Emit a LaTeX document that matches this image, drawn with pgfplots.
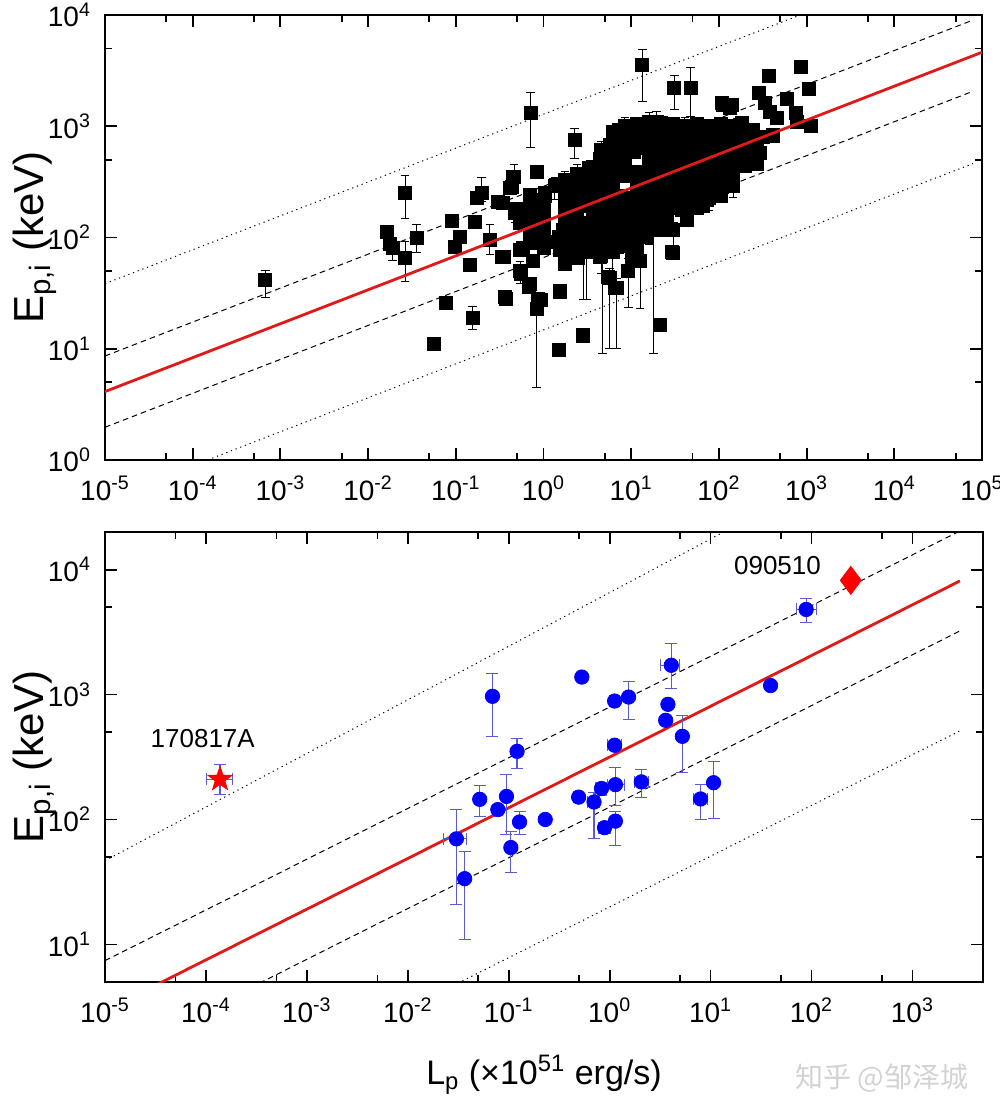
\documentclass[border=0pt]{standalone}
\usepackage{pgfplots}
\pgfplotsset{compat=1.18}
\usepackage{pgfplotstable}
\usepackage{fontspec}
\setmainfont{Liberation Sans}
\newfontfamily\cjk{Noto Sans CJK SC}
\definecolor{errblue}{RGB}{90,90,210}
\definecolor{fitred}{RGB}{225,25,25}

\pgfdeclareplotmark{filledstar}{%
 \pgfpathmoveto{\pgfpointpolar{90}{\pgfplotmarksize}}%
 \pgfpathlineto{\pgfpointpolar{126}{0.4\pgfplotmarksize}}%
 \pgfpathlineto{\pgfpointpolar{162}{\pgfplotmarksize}}%
 \pgfpathlineto{\pgfpointpolar{198}{0.4\pgfplotmarksize}}%
 \pgfpathlineto{\pgfpointpolar{234}{\pgfplotmarksize}}%
 \pgfpathlineto{\pgfpointpolar{270}{0.4\pgfplotmarksize}}%
 \pgfpathlineto{\pgfpointpolar{306}{\pgfplotmarksize}}%
 \pgfpathlineto{\pgfpointpolar{342}{0.4\pgfplotmarksize}}%
 \pgfpathlineto{\pgfpointpolar{18}{\pgfplotmarksize}}%
 \pgfpathlineto{\pgfpointpolar{54}{0.4\pgfplotmarksize}}%
 \pgfpathclose
 \pgfusepathqfillstroke}

% top panel: points without visible error bars
\pgfplotstableread{
x y
0.0163 113
0.0178 88
0.0564 11
0.077 26
0.09 142
0.098 83
0.11 101
0.145 57
0.166 138
0.176 225
0.30 211
0.333 67
0.37 28
0.433 285
0.494 182
0.54 164
0.54 134
0.589 80
0.766 62
0.553 47
0.689 36
0.93 27.7
1.04 250
0.995 98
1.09 92
0.85 385
0.348 205
0.364 29
0.415 281
0.453 347
0.54 135
0.54 77
0.35 67
0.70 38
0.873 28
0.995 95
1.48 102
1.54 77
1.54 33.3
2.84 13.4
28.8 74
5.48 44
6.53 35.6
11.5 74
2.49 67
2.84 77
3.39 88.5
6.82 82.5
10.6 77
21.4 117
37.7 178
43 144
66.4 191
72.4 220
94.2 271
417 832
247 893
174 1025
112 1560
134 1453
103 586
72.4 508
46.8 955
39.3 832
21.4 1062
7.13 893
4.41 508
2.84 359
2.39 271
1.84 236
3.1 236
6.25 312
8.87 359
17.9 474
36.1 586
51.2 673
60.8 508
86.3 413
60.8 359
43 312
30.2 271
21.4 236
10.6 178
5.25 178
3.7 155
2.61 135
2.0 155
1.68 117
4.04 117
5.73 102
15 144
25.4 178
36.1 236
51.2 271
72.4 312
146 722
207 722
15 312
11.5 271
7.45 236
5.25 236
4.41 67
12.6 62
15 102
25.4 144
7.13 508
10.6 586
15 722
17.9 628
55.7 832
86.3 722
36.1 385
17.9 359
1.39 297
7.26 925
22 1065
107 1607
851 3430
376 2830
1064 2150
289 2000
593 1747
336 1607
383 1352
456 1178
757 1306
784 1099
1112 1005
418 817
140 1549
182 1065
245 925
321 805
207 612
122 752
112 532
117 405
107 286
30 73
2.85 13
1.48 9.7
1.54 32.6
2.5 65
3.55 74
10.1 67
21.4 16.3
0.70 241
0.70 188
0.70 147
0.70 114
0.70 89
1.02 217
1.02 169
1.02 132
1.02 103
1.02 80.5
1.758 256
1.758 200
1.758 156
1.758 122
1.758 95
1.758 74
1.758 57.8
2.41 290
2.41 226
2.41 177
2.41 138
2.41 107
2.41 84
2.41 65.5
3.30 421
3.30 329
3.30 256
3.30 200
3.30 122
3.30 95
3.30 74
4.53 477
4.53 372
4.53 290
4.53 226
4.53 177
4.53 138
4.53 107
4.53 84
6.20 888
6.20 693
6.20 540
6.20 421
6.20 329
6.20 200
6.20 156
6.20 122
6.20 95
8.49 784
8.49 612
8.49 477
8.49 372
8.49 226
8.49 177
8.49 138
8.49 107
8.49 84
11.6 1047
11.6 817
11.6 638
11.6 388
11.6 303
11.6 236
11.6 184
11.6 144
11.6 112
16.0 852
16.0 664
16.0 518
16.0 405
16.0 315
16.0 246
16.0 192
16.0 150
21.9 1047
21.9 817
21.9 638
21.9 497
21.9 388
21.9 303
21.9 184
21.9 144
30.0 1047
30.0 817
30.0 638
30.0 497
30.0 388
30.0 303
30.0 236
30.0 184
41.0 784
41.0 612
41.0 372
41.0 290
41.0 226
41.0 177
56.2 1047
56.2 817
56.2 638
56.2 497
56.2 388
56.2 236
56.2 184
77.1 1005
77.1 784
77.1 612
77.1 477
77.1 372
77.1 290
106 1047
106 817
106 638
106 497
106 388
106 303
106 236
145 1005
145 784
145 612
145 477
145 372
199 925
199 722
199 563
199 439
272 752
272 587
272 458
}\topnoerr

% top panel: points with error bars (ep = plus, em = minus)
\pgfplotstableread{
x y ep em
6.7e-4 42 9 13
0.0264 253 106 103
0.019 80 10 18
0.0264 65 27 25
0.0358 100 30 27
0.156 19 5 4
0.197 250 95 40
0.245 96 34 26
0.461 352 100 50
0.835 23 7 18.5
0.71 1306 690 660
2.28 748 207 233
13.4 3550 1350 1890
31 2190 700 770
47.6 2190 1200 970
294 571 80 130
17.9 155 40 146
4.7 120 30 111
5.7 43 10 33
9.27 50.5 15 27
6.82 35 8 25
0.54 50.5 10 12
1.35 290 60 70
1.04 236 50 60
0.473 166 30 30
3.39 413 80 80
5.73 673 150 150
8.87 722 200 150
12.6 832 150 150
19.5 1100 250 200
30.2 893 100 100
60.8 955 250 200
2.61 191 40 50
4.41 271 50 60
7.45 155 30 40
15 205 40 40
25.4 385 60 60
43 508 60 80
72.4 722 100 100
103 832 150 150
146 442 80 100
3.1 120 30 92
2.84 102 25 74
12.6 117 30 94
30.2 117 20 50
8.49 1005 200 150
16.0 1092 250 200
41.0 1005 200 200
4.53 612 120 100
2.41 372 80 60
1.758 329 60 50
6.20 74 20 25
4.53 68 15 20
11.6 87.5 20 25
16.0 117 25 30
77.1 226 40 50
145 290 60 60
}\toperr

% bottom panel
\pgfplotstableread{
x y exm exp eym eyp
0.069 968 0.005 0.005 505 512
0.53 1380 0.04 0.04 80 80
1.12 887 0.12 0.12 60 60
1.54 955 0.05 0.05 324 327
1.12 393 0.16 0.18 30 30
0.121 351 0.005 0.005 96 93
0.0516 145 0.005 0.005 40 43
0.095 153 0.004 0.004 77 76
0.078 120 0.008 0.008 8 8
0.128 95.5 0.006 0.006 20 21
0.23 100 0.01 0.01 6 6
0.105 59.6 0.005 0.005 22 20
0.0303 70 0.008 0.008 49 50
0.0366 33.6 0.002 0.002 22.6 22.4
0.493 151 0.06 0.05 8 8
0.70 138 0.1 0.1 68 28
0.83 177 0.1 0.1 20 20
1.14 190 0.2 0.25 60 72
0.89 86 0.12 0.12 8 8
1.14 97 0.08 0.08 35 18
88.5 4800 18 24 1000 1100
39.3 1180 2 2 60 60
4.08 1715 0.9 0.8 600 835
3.78 835 0.3 0.3 40 40
3.59 622 0.2 0.2 40 40
5.25 463 0.3 0.3 223 217
2.06 200 0.3 0.35 49 51
10.7 197 0.6 0.6 95 97
7.96 146 1.2 1.4 46 44
}\botdata

\pgfplotstableread{
x y exm exp eym eyp
1.38e-4 210 0.36e-4 0.44e-4 52 65
}\stardata

\pgfplotstableread{
x y exm exp eym eyp
245 8200 20 20 400 400
}\diadata

\pgfplotsset{
  every axis/.append style={
    scale only axis, xmode=log, ymode=log,
    axis line style={line width=1pt},
    tick align=inside, xtick pos=both, ytick pos=both,
    major tick length=6pt, minor tick length=3.5pt,
    every tick/.style={black, line width=0.9pt},
    tick label style={font=\fontsize{14}{16}\selectfont},
    xticklabel style={yshift=-4.5pt},
    yticklabel style={xshift=-3.5pt},
    ylabel style={font=\fontsize{21}{24}\selectfont, at={(axis description cs:-0.0798,0.5)}, anchor=center},
    xlabel style={font=\fontsize{17}{20}\selectfont},
    clip=true, clip mode=individual,
  },
}

\begin{document}
\begin{tikzpicture}
% ---------------- top panel ----------------
\begin{axis}[
  at={(0,0)}, anchor=north west,
  width=438.5pt, height=222.5pt,
  xmin=1e-5, xmax=1e5, ymin=1, ymax=1e4,
  xtick={1e-5,1e-4,1e-3,1e-2,1e-1,1,10,100,1000,1e4,1e5},
  xticklabels={10\textsuperscript{-5},10\textsuperscript{-4},10\textsuperscript{-3},10\textsuperscript{-2},10\textsuperscript{-1},10\textsuperscript{0},10\textsuperscript{1},10\textsuperscript{2},10\textsuperscript{3},10\textsuperscript{4},10\textsuperscript{5}},
  minor xtick={5e-5,5e-4,5e-3,5e-2,5e-1,5,50,500,5000,5e4},
  ytick={1,10,100,1000,1e4},
  yticklabels={10\textsuperscript{0},10\textsuperscript{1},10\textsuperscript{2},10\textsuperscript{3},10\textsuperscript{4}},
  minor ytick={5,50,500,5000},
  ylabel={E\textsubscript{p,i} (keV)},
]
\addplot[black, line width=0.5pt, dash pattern=on 0.6pt off 1.9pt] coordinates {(1e-5,38.5) (7.9e4,39800)};
\addplot[black, line width=0.5pt, dash pattern=on 2.8pt off 2pt] coordinates {(1e-5,8.61) (7.9e4,9007)};
\addplot[black, line width=0.5pt, dash pattern=on 2.8pt off 2pt] coordinates {(1e-5,1.97) (7.9e4,2063)};
\addplot[black, line width=0.5pt, dash pattern=on 0.6pt off 1.9pt] coordinates {(1e-5,0.44) (7.9e4,462)};
\addplot[only marks, mark=square*, mark size=3.25pt, black,
  error bars/.cd, y dir=both, y explicit,
  error bar style={black, line width=0.5pt, mark size=2.2pt}]
  table[x=x, y=y, y error plus=ep, y error minus=em]{\toperr};
\addplot[only marks, mark=square*, mark size=3.25pt, black] table[x=x, y=y]{\topnoerr};
\addplot[fitred, line width=1.4pt] coordinates {(1e-5,4.12) (1e5,4624)};
\end{axis}

% ---------------- bottom panel ----------------
\begin{axis}[
  at={(0,-258.5pt)}, anchor=north west,
  width=439pt, height=225pt,
  xmin=1e-5, xmax=5000, ymin=5, ymax=2e4,
  xtick={1e-5,1e-4,1e-3,1e-2,1e-1,1,10,100,1000},
  xticklabels={10\textsuperscript{-5},10\textsuperscript{-4},10\textsuperscript{-3},10\textsuperscript{-2},10\textsuperscript{-1},10\textsuperscript{0},10\textsuperscript{1},10\textsuperscript{2},10\textsuperscript{3}},
  minor xtick={5e-5,5e-4,5e-3,5e-2,5e-1,5,50,500},
  ytick={10,100,1000,1e4},
  yticklabels={10\textsuperscript{1},10\textsuperscript{2},10\textsuperscript{3},10\textsuperscript{4}},
  minor ytick={5,50,500,5000},
  ylabel={E\textsubscript{p,i} (keV)},
  xlabel={L\textsubscript{p} (×10\textsuperscript{51} erg/s)},
  xlabel style={at={(axis description cs:0.5,-0.2067)}, anchor=center},
]
\addplot[black, line width=0.5pt, dash pattern=on 0.6pt off 1.9pt] coordinates {(1e-5,46.8) (2950,2.02e5)};
\addplot[black, line width=0.5pt, dash pattern=on 2.8pt off 2pt] coordinates {(1e-5,7.41) (2950,20370)};
\addplot[black, line width=0.5pt, dash pattern=on 2.8pt off 2pt] coordinates {(1e-5,1.17) (2950,3228)};
\addplot[black, line width=0.5pt, dash pattern=on 0.6pt off 1.9pt] coordinates {(1e-5,0.186) (2950,512)};
\addplot[fitred, line width=1.4pt] coordinates {(1e-5,2.95) (2950,8110)};
\addplot[only marks, mark=*, mark size=3.6pt, blue,
  error bars/.cd, x dir=both, x explicit, y dir=both, y explicit,
  error bar style={errblue, line width=0.6pt, mark size=3pt}]
  table[x=x, y=y, x error plus=exp, x error minus=exm, y error plus=eyp, y error minus=eym]{\botdata};
\addplot[only marks, mark=filledstar, mark size=6.5pt, red, mark options={fill=red, line width=0.3pt},
  error bars/.cd, x dir=both, x explicit, y dir=both, y explicit,
  error bar style={errblue, line width=0.6pt, mark size=3pt}]
  table[x=x, y=y, x error plus=exp, x error minus=exm, y error plus=eyp, y error minus=eym]{\stardata};
\addplot[only marks, mark=diamond*, mark size=7pt, red,
  error bars/.cd, x dir=both, x explicit, y dir=both, y explicit,
  error bar style={errblue, line width=0.6pt, mark size=3pt}]
  table[x=x, y=y, x error plus=exp, x error minus=exm, y error plus=eyp, y error minus=eym]{\diadata};
\node[font=\fontsize{13}{15}\selectfont] at (axis cs:9.3e-5,442) {170817A};
\node[font=\fontsize{13}{15}\selectfont] at (axis cs:46,10700) {090510};
\end{axis}

\node[font=\cjk\fontsize{14}{16}\selectfont, text=gray!35] at (388.5pt,-531.5pt) {知乎 @邹泽城};

\pgfresetboundingbox
\path[use as bounding box] (-52.5pt,7.5pt) rectangle (447.5pt,-544.5pt);
\end{tikzpicture}
\end{document}
